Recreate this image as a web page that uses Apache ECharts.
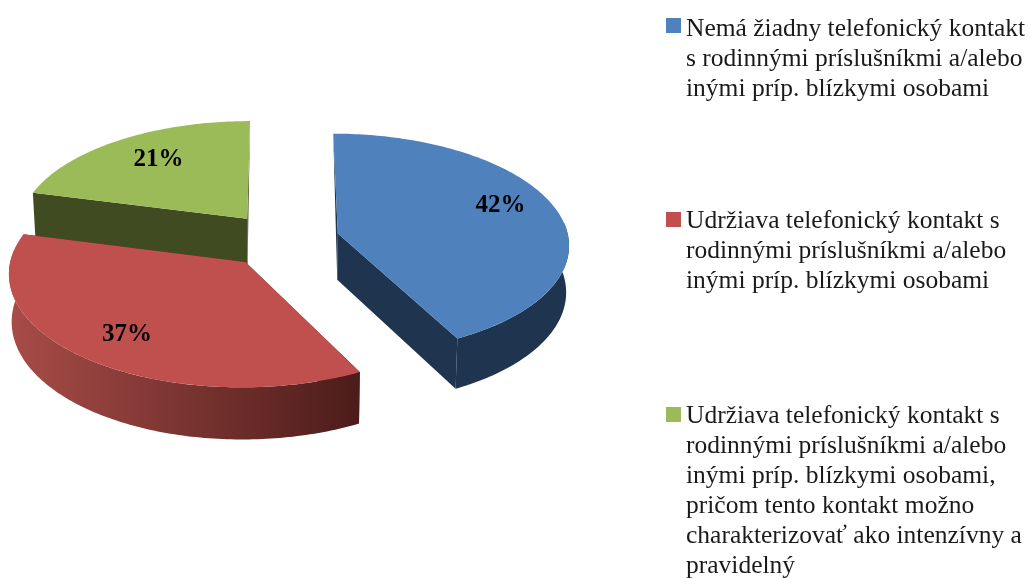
<!DOCTYPE html>
<html><head><meta charset="utf-8">
<style>html,body{margin:0;padding:0;background:#fff}#c{width:1030px;height:578px}</style>
<script src="https://cdn.jsdelivr.net/npm/echarts@6/dist/echarts.min.js"></script>
</head><body><div id="c"></div>
<script>
// data
const names = [
  'Nemá žiadny telefonický kontakt s rodinnými príslušníkmi a/alebo inými príp. blízkymi osobami',
  'Udržiava telefonický kontakt s rodinnými príslušníkmi a/alebo inými príp. blízkymi osobami',
  'Udržiava telefonický kontakt s rodinnými príslušníkmi a/alebo inými príp. blízkymi osobami, pričom tento kontakt možno charakterizovať ako intenzívny a pravidelný'
];
const legendLines = [
  ['Nemá žiadny telefonický kontakt','s rodinnými príslušníkmi a/alebo','inými príp. blízkymi osobami'],
  ['Udržiava telefonický kontakt s','rodinnými príslušníkmi a/alebo','inými príp. blízkymi osobami'],
  ['Udržiava telefonický kontakt s','rodinnými príslušníkmi a/alebo','inými príp. blízkymi osobami,','pričom tento kontakt možno','charakterizovať ako intenzívny a','pravidelný']
];
const values = [42.4, 36.6, 21];
// style
const topColors = ['#4f81bd', '#c0504d', '#9bbb59'];
const wallColors = ['#1f344e', '#4c1c1a', '#414b21'];
const redRimStops = ['#a84c48', '#4c1c1a'];
const legendTops = [14, 206, 401];
const symbolShift = [4, 6, 6];
const labelFrac = [0.73, 0.80, 0.68];
const labelNudge = [[3, -9], [8, -3], [0, -5]];
// layout of the projected pie
const G = {cx: 282, cy: 240, rx: 231, ry: 110, k: 0.09, explode: 0.25, depth: 46.5, start: 0, shrink: 0.99};
const rad = d => d * Math.PI / 180;
const total = values.reduce((a, b) => a + b, 0);
function sliceAngles(i) {
  let a = G.start;
  for (let j = 0; j < i; j++) a += values[j] / total * 360;
  return [a, a + values[i] / total * 360];
}
function project(wx, wf) {
  const s = 1 / (1 - G.k * wf);
  return {x: G.cx + G.rx * wx * s, y: G.cy + G.ry * wf * s, s: s};
}
function makeRender(i) {
  return function (params, api) {
    const [a0, a1] = sliceAngles(i);
    const mid = (a0 + a1) / 2;
    const ox = G.explode * Math.sin(rad(mid));
    const of = -G.explode * Math.cos(rad(mid));
    const at = (t, f) => project(ox + f * Math.sin(rad(t)), of - f * Math.cos(rad(t)));
    const topP = t => { const p = at(t, 1); return [p.x, p.y]; };
    const botP = t => { const p = at(t, 1); return [G.cx + (p.x - G.cx) * G.shrink, p.y + G.depth * p.s]; };
    const apex = at(0, 0);
    const apexT = [apex.x, apex.y];
    const apexB = [G.cx + (apex.x - G.cx) * G.shrink, apex.y + G.depth * apex.s];
    const arc = (f, u0, u1) => { const n = Math.max(2, Math.ceil(Math.abs(u1 - u0))); const out = []; for (let j = 0; j <= n; j++) out.push(f(u0 + (u1 - u0) * j / n)); return out; };
    const children = [];
    // edges that run to the back of the pie only show as a thin sliver
    const radial = t => {
      const back = Math.cos(rad(t)) > 0.9;
      return {type: 'polygon', shape: {points: back ? [apexT, topP(t), apexB] : [apexT, topP(t), botP(t), apexB]}, style: {fill: wallColors[i]}};
    };
    children.push(radial(a0), radial(a1));
    const r0 = Math.max(a0, 84), r1 = Math.min(a1, 276);
    if (r1 > r0) {
      const fill = i === 1
        ? new echarts.graphic.LinearGradient(0, 0, 1, 0, [{offset: 0, color: redRimStops[0]}, {offset: 1, color: redRimStops[1]}])
        : wallColors[i];
      children.push({type: 'polygon', shape: {points: arc(topP, r0, r1).concat(arc(botP, r1, r0))}, style: {fill: fill}});
    }
    children.push({type: 'polygon', shape: {points: [apexT].concat(arc(topP, a0, a1))}, style: {fill: topColors[i]}});
    const lp = at(mid, labelFrac[i]);
    children.push({type: 'text', style: {
      text: Math.round(api.value(0)) + '%', x: lp.x + labelNudge[i][0], y: lp.y + labelNudge[i][1],
      align: 'center', verticalAlign: 'middle', fill: '#000',
      font: 'bold 25px "Liberation Serif"'}});
    return {type: 'group', children: children};
  };
}
const order = [2, 1, 0];
const option = {
  animation: false,
  backgroundColor: '#fff',
  legend: names.map((n, i) => {
    const h = legendLines[i].length * 30;
    const s = symbolShift[i];
    return {
      data: [n], left: 666, top: legendTops[i], orient: 'vertical', padding: 0,
      selectedMode: false, itemWidth: 15, itemHeight: h,
      icon: 'path://M0 0L0 0M0 ' + s + 'L15 ' + s + 'L15 ' + (s + 15) + 'L0 ' + (s + 15) + 'ZM0 ' + h + 'L0 ' + h,
      formatter: nm => legendLines[names.indexOf(nm)].join('\n'),
      textStyle: {fontFamily: 'Liberation Serif', fontSize: 25.5, lineHeight: 30, color: '#1a1a1a'}
    };
  }),
  series: order.map(i => ({
    type: 'custom', name: names[i], coordinateSystem: 'none', silent: true,
    itemStyle: {color: topColors[i]},
    data: [[values[i]]],
    renderItem: makeRender(i)
  }))
};
const chart = echarts.init(document.getElementById('c'), null, {renderer: 'canvas'});
chart.setOption(option);
</script></body></html>
